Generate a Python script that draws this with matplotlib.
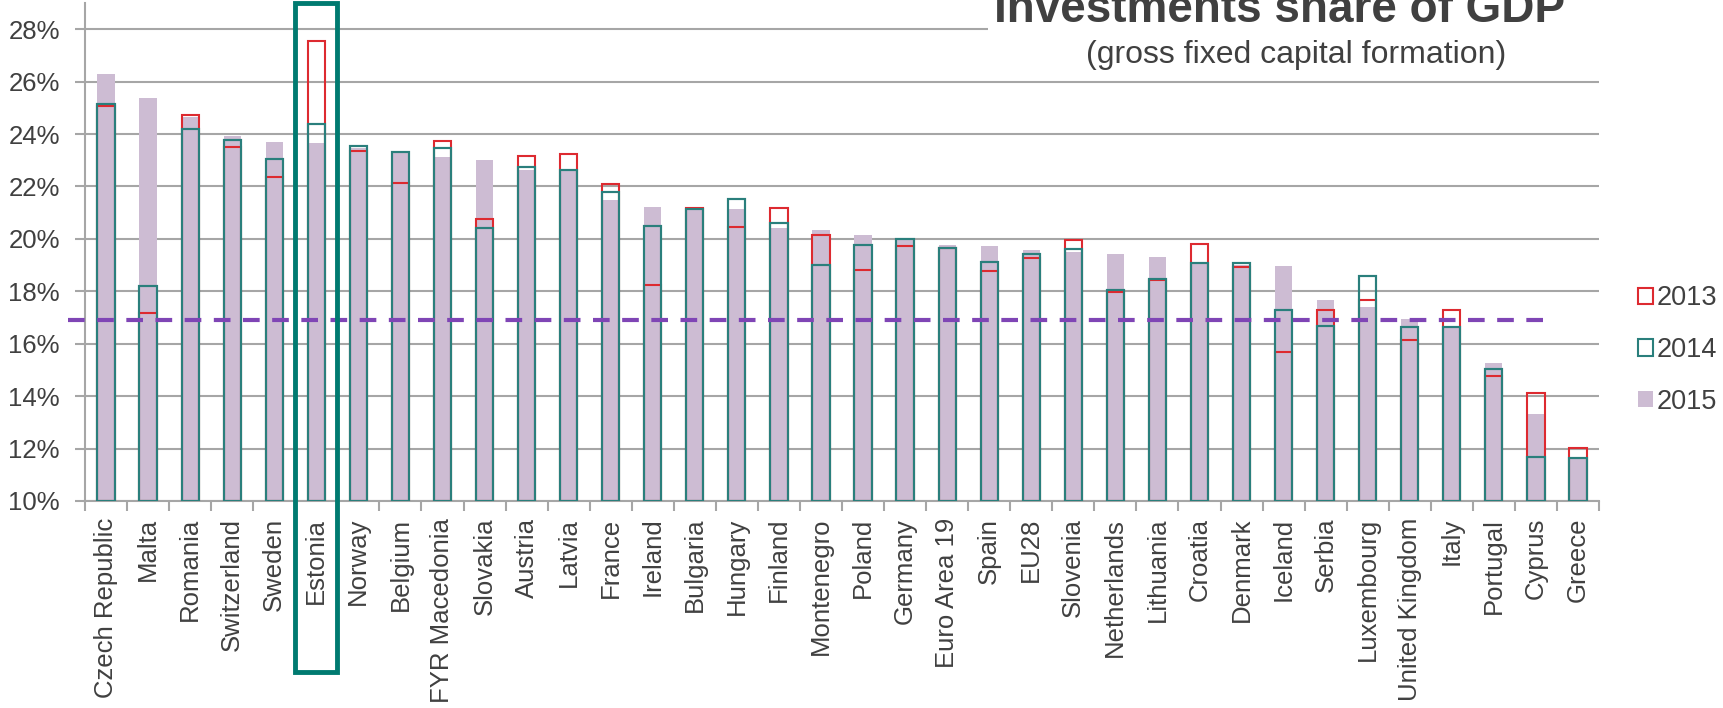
import matplotlib.pyplot as plt
import matplotlib.transforms as mtransforms
from matplotlib.patches import Rectangle
from matplotlib.lines import Line2D
import numpy as np

plt.rcParams['font.family'] = ['Liberation Sans', 'DejaVu Sans']

countries = ["Czech Republic", "Malta", "Romania", "Switzerland", "Sweden", "Estonia",
             "Norway", "Belgium", "FYR Macedonia", "Slovakia", "Austria", "Latvia",
             "France", "Ireland", "Bulgaria", "Hungary", "Finland", "Montenegro",
             "Poland", "Germany", "Euro Area 19", "Spain", "EU28", "Slovenia",
             "Netherlands", "Lithuania", "Croatia", "Denmark", "Iceland", "Serbia",
             "Luxembourg", "United Kingdom", "Italy", "Portugal", "Cyprus", "Greece"]

y2013 = [25.07, 17.17, 24.73, 23.49, 22.36, 27.55, 23.35, 22.13, 23.73, 20.75, 23.16, 23.25,
         22.08, 18.25, 21.18, 20.45, 21.18, 20.15, 18.83, 19.71, 19.67, 18.78, 19.27, 19.97,
         17.96, 18.43, 19.82, 18.93, 15.70, 17.27, 17.66, 16.14, 17.27, 14.76, 14.11, 12.01]
y2014 = [25.16, 18.20, 24.18, 23.78, 23.04, 24.37, 23.54, 23.30, 23.45, 20.41, 22.76, 22.61,
         21.78, 20.50, 21.15, 21.53, 20.60, 19.02, 19.76, 20.00, 19.67, 19.12, 19.41, 19.62,
         18.04, 18.48, 19.08, 19.08, 17.27, 16.67, 18.59, 16.62, 16.62, 15.02, 11.68, 11.63]
y2015 = [26.31, 25.38, 24.65, 23.91, 23.71, 23.66, 23.45, 23.35, 23.12, 23.02, 22.64, 22.59,
         21.50, 21.21, 21.12, 21.15, 20.42, 20.33, 20.13, 19.94, 19.77, 19.73, 19.59, 19.49,
         19.44, 19.30, 19.08, 19.02, 18.96, 17.67, 17.39, 16.94, 16.62, 15.27, 13.31, 11.60]
average = 16.89
highlight = "Estonia"

purple = "#cdbcd3"
teal = "#2a7f7c"
red = "#dd2a30"
text_col = "#404040"
grid_col = "#a6a6a6"

fig = plt.figure(figsize=(17.23, 7.08), dpi=100)
ax = fig.add_axes([85 / 1723, 1 - 501 / 708, (1599 - 85) / 1723, 498 / 708])

x = np.arange(len(countries))
w = 0.41
ax.bar(x, np.array(y2015) - 10, bottom=10, width=w, color=purple, zorder=2, label="2015")
ax.bar(x, np.array(y2014) - 10, bottom=10, width=w, fill=False, edgecolor=teal,
       linewidth=1.5, zorder=3, label="2014")
ax.bar(x, np.array(y2013) - 10, bottom=10, width=w, fill=False, edgecolor=red,
       linewidth=1.5, zorder=3, label="2013")
# redraw 2014 outline so its sides sit over the red ones
ax.bar(x, np.array(y2014) - 10, bottom=10, width=w, fill=False, edgecolor=teal,
       linewidth=1.5, zorder=4)

ax.set_xlim(-0.5, len(countries) - 0.5)
ax.set_ylim(10, 29.0)
ax.set_yticks(np.arange(10, 29, 2))
ax.set_yticklabels([f"{v}%" for v in range(10, 29, 2)], fontsize=18.5, color=text_col)
ax.yaxis.grid(True, color=grid_col, linewidth=1.5, zorder=0)
ax.set_axisbelow(True)

ax.set_xticks(x)
ax.set_xticklabels(countries, rotation=90, fontsize=18.5, color=text_col)
ax.set_xticks(np.arange(-0.5, len(countries), 1), minor=True)
ax.tick_params(axis="x", which="major", length=0, pad=12)
ax.tick_params(axis="x", which="minor", length=7, color=grid_col, width=1.5)
ax.tick_params(axis="y", length=7, color=grid_col, width=1.5, pad=11)

for s in ["top", "right"]:
    ax.spines[s].set_visible(False)
for s in ["left", "bottom"]:
    ax.spines[s].set_color(grid_col)
    ax.spines[s].set_linewidth(1.5)

# average line
ax.add_line(Line2D([-0.9, 34.4], [average, average], color="#7f45b5", linewidth=3,
                   dashes=(4, 3), zorder=5, clip_on=False))

# highlight box around Estonia
i = countries.index(highlight)
trans = mtransforms.blended_transform_factory(ax.transData, fig.transFigure)
ax.add_patch(Rectangle((i - 0.5, 1 - 672 / 708), 1.0, 669 / 708, transform=trans,
                       fill=False, edgecolor="#007a70", linewidth=3.5, zorder=6,
                       clip_on=False))

# title block (covers the top gridline)
fig.patches.append(Rectangle((988 / 1723, 1 - 42 / 708), 620 / 1723, 42 / 708,
                             transform=fig.transFigure, facecolor="white",
                             edgecolor="none", zorder=3))
fig.text(1280 / 1723, 1 - 22 / 708, "Investments share of GDP", ha="center",
         va="baseline", fontsize=33, fontweight="bold", color=text_col, zorder=4)
fig.text(1296 / 1723, 1 - 63 / 708, "(gross fixed capital formation)", ha="center",
         va="baseline", fontsize=23, color=text_col, zorder=4)

handles, labels = ax.get_legend_handles_labels()
order = [2, 1, 0]
leg = fig.legend([handles[k] for k in order], [labels[k] for k in order],
                 loc="center left", bbox_to_anchor=(1638 / 1723, 1 - 350 / 708),
                 frameon=False, fontsize=19.5, handlelength=0.55, handleheight=0.55,
                 handletextpad=0.15, labelspacing=0.95, borderpad=0, borderaxespad=0,
                 labelcolor=text_col)

fig.savefig("out.png", dpi=100)
